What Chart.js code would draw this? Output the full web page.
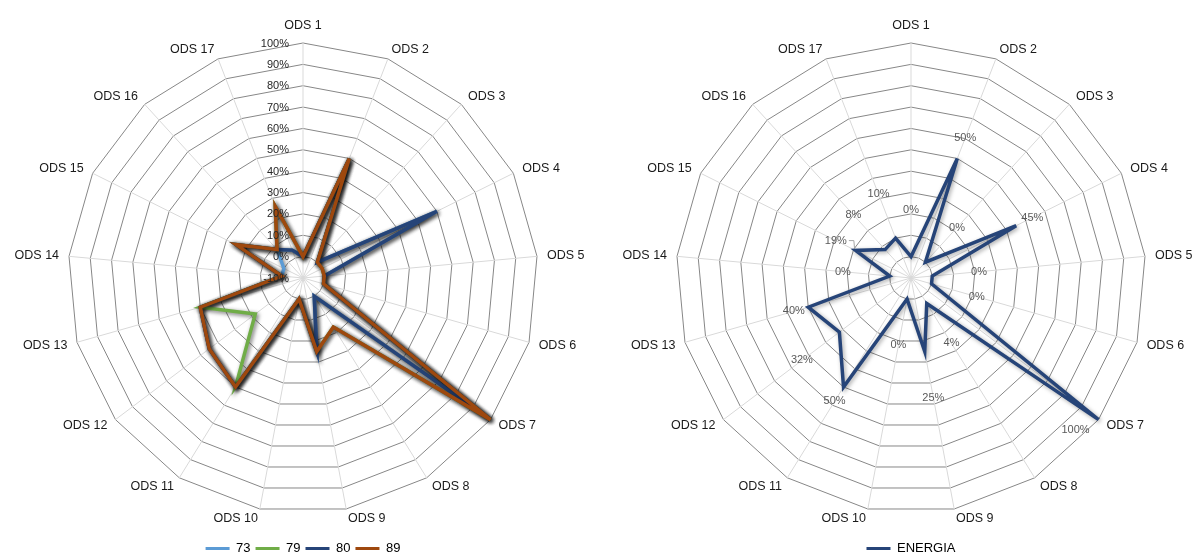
<!DOCTYPE html>
<html>
<head>
<meta charset="utf-8">
<script src="https://cdn.jsdelivr.net/npm/chart.js@4.4.1/dist/chart.umd.min.js"></script>
<style>
  html, body { margin: 0; padding: 0; background: #ffffff; overflow: hidden; width: 1197px; height: 556px; }
  .panel { position: absolute; top: 0; width: 606px; height: 565px; }
  #panelLeft { left: 0; }
  #panelRight { left: 608px; }
</style>
</head>
<body>
<div class="panel" id="panelLeft"><canvas id="chartYears" width="606" height="565"></canvas></div>
<div class="panel" id="panelRight"><canvas id="chartEnergia" width="606" height="565"></canvas></div>
<script>
// Sustainable development goals on the radial axes
const categories = ['ODS 1', 'ODS 2', 'ODS 3', 'ODS 4', 'ODS 5', 'ODS 6', 'ODS 7', 'ODS 8', 'ODS 9',
                    'ODS 10', 'ODS 11', 'ODS 12', 'ODS 13', 'ODS 14', 'ODS 15', 'ODS 16', 'ODS 17'];

// Share (%) per goal for each group
const serie73 = [0, 50, 0, 60, 0, 0, 100, 0, 25, 0, 50, 45, 40, 0, 0, 8, 4];
const serie79 = [0, 50, 0, 0, 0, 0, 100, 17, 25, 0, 50, 18, 40, 0, 25, 8, 26];
const serie80 = [0, 50, 0, 60, 0, 0, 100, 0, 25, 0, 50, 45, 40, 0, 25, 8, 4];
const serie89 = [0, 50, 0, 0, 0, 0, 100, 17, 25, 0, 50, 45, 40, 0, 25, 8, 26];

// Energy sector profile
const energia = [0, 50, 0, 45, 0, 0, 100, 4, 25, 0, 50, 32, 40, 0, 19, 8, 10];

// Radial value axis
const axisMin = -10;
const axisMax = 100;
const axisStep = 10;
const tickValues = [-10, 0, 10, 20, 30, 40, 50, 60, 70, 80, 90, 100];

const FONT = '"Liberation Sans", Arial, Helvetica, sans-serif';

// Soft drop shadow under every series line
const lineShadow = {
  id: 'lineShadow',
  beforeDatasetDraw(chart, args, opts) {
    const ctx = chart.ctx;
    ctx.save();
    ctx.shadowColor = opts.color;
    ctx.shadowBlur = opts.blur;
    ctx.shadowOffsetX = opts.dx;
    ctx.shadowOffsetY = opts.dy;
  },
  afterDatasetDraw(chart) {
    chart.ctx.restore();
  }
};

// Category names around the outer ring: the label sits beside its spoke end,
// extending away from the vertical axis (or above / below it on that axis)
const goalLabels = {
  id: 'goalLabels',
  afterDraw(chart, args, opts) {
    const r = chart.scales.r;
    const ctx = chart.ctx;
    ctx.save();
    ctx.font = opts.font;
    ctx.fillStyle = opts.color;
    ctx.textAlign = 'center';
    ctx.textBaseline = 'middle';
    chart.data.labels.forEach((text, i) => {
      const w = ctx.measureText(text).width;
      const a = r.getIndexAngle(i);
      const p = r.getPointPosition(i, r.drawingArea + opts.gap);
      const s = Math.sin(a);
      const c = Math.cos(a);
      let x = p.x;
      let y = p.y;
      if (Math.abs(s) > 1e-6) {
        x += Math.sign(s) * w / 2;
      } else {
        y -= Math.sign(c) * (opts.textHeight / 2 + 1);
      }
      ctx.fillText(text, x, y);
    });
    ctx.restore();
  }
};

// Percentage labels along the first spoke
const ringTicks = {
  id: 'ringTicks',
  afterDatasetsDraw(chart, args, opts) {
    if (!opts.display) return;
    const r = chart.scales.r;
    const ctx = chart.ctx;
    ctx.save();
    ctx.font = opts.font;
    ctx.fillStyle = opts.color;
    ctx.textAlign = 'right';
    ctx.textBaseline = 'middle';
    tickValues.forEach(v => {
      const d = r.getDistanceFromCenterForValue(v);
      ctx.fillText(v + '%', r.xCenter + opts.offsetX, r.yCenter - d + 0.5);
    });
    ctx.restore();
  }
};

// Value labels next to each vertex of the energy profile
const vertexValues = {
  id: 'vertexValues',
  afterDatasetsDraw(chart, args, opts) {
    if (!opts.display) return;
    const r = chart.scales.r;
    const ctx = chart.ctx;
    const values = chart.data.datasets[0].data;
    ctx.save();
    ctx.font = opts.font;
    ctx.textAlign = 'center';
    ctx.textBaseline = 'middle';
    values.forEach((v, i) => {
      const p = r.getPointPosition(i, r.getDistanceFromCenterForValue(v));
      const a = r.getIndexAngle(i) - Math.PI / 2;
      const tweak = opts.tweaks[i] || {};
      let x, y;
      if (tweak.dx !== undefined) {
        x = p.x + tweak.dx;
        y = p.y + tweak.dy;
      } else {
        const d = tweak.out !== undefined ? tweak.out : opts.distance;
        x = p.x + Math.cos(a) * d;
        y = p.y + Math.sin(a) * d;
      }
      const text = v + '%';
      ctx.fillStyle = opts.color;
      ctx.fillText(text, x, y);
      if (tweak.leader) {
        const half = ctx.measureText(text).width / 2;
        ctx.strokeStyle = opts.leaderColor;
        ctx.lineWidth = 1;
        ctx.beginPath();
        ctx.moveTo(x + half + 2, y);
        ctx.lineTo(x + half + 7, y);
        ctx.lineTo(p.x - 1, p.y + (p.y > y ? -2 : 2));
        ctx.stroke();
      }
    });
    ctx.restore();
  }
};

function legendItems(chart) {
  return chart.data.datasets.map((ds, i) => ({
    text: ds.label,
    fillStyle: ds.borderColor,
    strokeStyle: ds.borderColor,
    lineWidth: 0,
    hidden: false,
    datasetIndex: i
  }));
}

// Later groups are drawn over earlier ones (lower order = on top)
function lineSet(label, data, color, order) {
  return {
    label: label,
    data: data,
    order: order,
    borderColor: color,
    backgroundColor: color,
    borderWidth: 3.5,
    borderJoinStyle: 'miter',
    fill: false,
    pointRadius: 0,
    pointHoverRadius: 0,
    tension: 0
  };
}

function radarOptions(showTicks, shadow) {
  return {
    responsive: false,
    animation: false,
    events: [],
    layout: { padding: { left: 68, right: 68, top: 19, bottom: 0 } },
    scales: {
      r: {
        min: axisMin,
        max: axisMax,
        startAngle: 0,
        ticks: { display: false, stepSize: axisStep },
        grid: { color: '#878787', lineWidth: 1 },
        angleLines: { color: '#d9d9d9', lineWidth: 1 },
        pointLabels: { display: false }
      }
    },
    plugins: {
      legend: {
        position: 'bottom',
        labels: {
          font: { family: FONT, size: 13 },
          color: '#262626',
          boxWidth: 24,
          boxHeight: 3,
          padding: 5,
          generateLabels: legendItems
        }
      },
      tooltip: { enabled: false },
      lineShadow: shadow,
      goalLabels: { font: '12.5px ' + FONT, color: '#1a1a1a', gap: 10, textHeight: 13 },
      ringTicks: { display: showTicks, font: '11px ' + FONT, color: '#262626', offsetX: -14 },
      vertexValues: { display: false }
    }
  };
}

const yearsOptions = radarOptions(true, { color: 'rgba(0,0,0,0.6)', blur: 4, dx: 1.5, dy: 1.5 });

new Chart(document.getElementById('chartYears'), {
  type: 'radar',
  data: {
    labels: categories,
    datasets: [
      lineSet('73', serie73, '#5B9BD5', 3),
      lineSet('79', serie79, '#70AD47', 2),
      lineSet('80', serie80, '#264478', 1),
      lineSet('89', serie89, '#9E480E', 0)
    ]
  },
  options: yearsOptions,
  plugins: [lineShadow, goalLabels, ringTicks, vertexValues]
});

const energiaOptions = radarOptions(false, { color: 'rgba(0,0,0,0.35)', blur: 4, dx: 1.5, dy: 1.5 });
energiaOptions.plugins.vertexValues = {
  display: true,
  font: '11px ' + FONT,
  color: '#595959',
  leaderColor: '#a6a6a6',
  distance: 47,
  tweaks: {
    1: { out: 22 },
    3: { out: 18 },
    6: { dx: -23, dy: 10.5 },
    10: { out: 17 },
    12: { out: 15 },
    14: { out: 22, leader: true }
  }
};

new Chart(document.getElementById('chartEnergia'), {
  type: 'radar',
  data: {
    labels: categories,
    datasets: [lineSet('ENERGIA', energia, '#264478', 0)]
  },
  options: energiaOptions,
  plugins: [lineShadow, goalLabels, ringTicks, vertexValues]
});
</script>
</body>
</html>
